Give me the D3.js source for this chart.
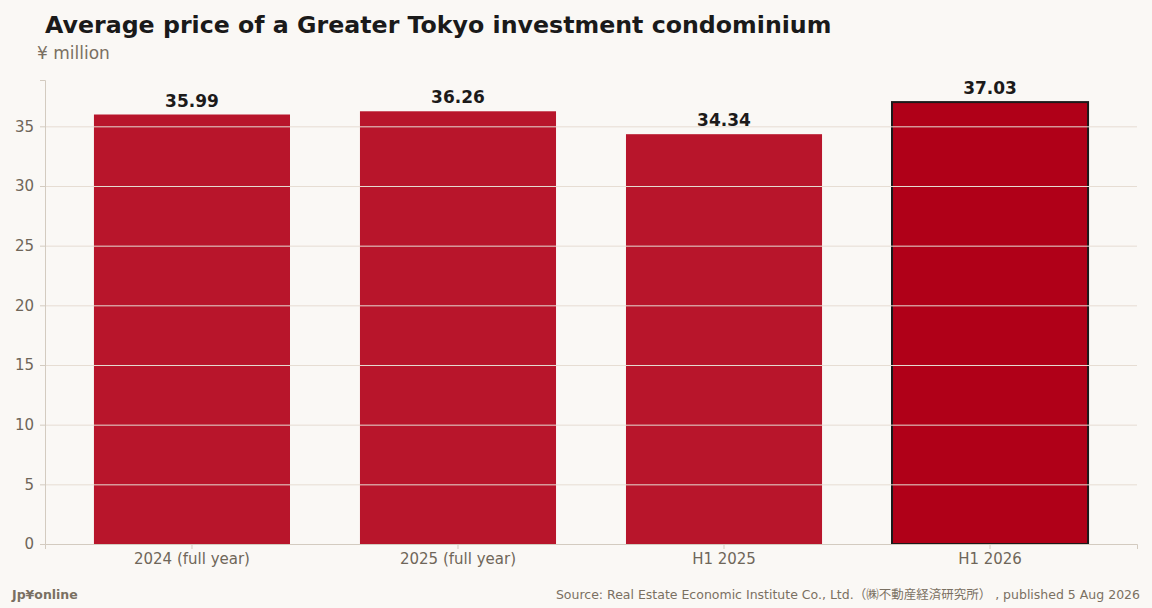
<!DOCTYPE html>
<html lang="en">
<head>
<meta charset="UTF-8">
<title>Average price of a Greater Tokyo investment condominium</title>
<script src="https://cdn.jsdelivr.net/npm/d3@7"></script>
<style>
  body { margin: 0; background: #faf8f5; }
  svg { display: block; font-family: "DejaVu Sans", sans-serif; }
  .grid line { stroke: #e6ddd3; stroke-width: 1; }
  .axis path, .axis line { stroke: #d3cbc0; }
  .axis text { fill: #6f6659; font-size: 15px; font-family: "DejaVu Sans", sans-serif; }
</style>
</head>
<body>
<div id="chart"></div>
<script>
  const categories = ["2024 (full year)", "2025 (full year)", "H1 2025", "H1 2026"]
  const values = [35.99, 36.26, 34.34, 37.03]
  const yTicks = [0, 5, 10, 15, 20, 25, 30, 35]
  const highlight = "H1 2026"

  let width = 1152, height = 608
  let margin = {top: 80, right: 15, bottom: 64, left: 45}

  let svg = d3.select("#chart").append("svg").attr("width", width).attr("height", height)
  svg.append("rect").attr("width", width).attr("height", height).attr("fill", "#faf8f5")

  let x = d3.scaleBand().domain(categories)
    .range([margin.left, width - margin.right])
    .paddingInner(0.263).paddingOuter(0.184)
  let y = d3.scaleLinear().domain([0, d3.max(values) * 1.05])
    .range([height - margin.bottom, margin.top])

  // bars
  svg.append("g").selectAll("rect").data(categories).join("rect")
    .attr("x", d => x(d))
    .attr("y", (d, i) => y(values[i]))
    .attr("width", x.bandwidth())
    .attr("height", (d, i) => y(0) - y(values[i]))
    .attr("fill", d => d == highlight ? "#b00018" : "#b8152b")
    .attr("stroke", d => d == highlight ? "#1c1a1a" : "none")
    .attr("stroke-width", 2)

  // grid lines sit on top of the bars
  svg.append("g").attr("class", "grid").selectAll("line").data(yTicks.slice(1)).join("line")
    .attr("x1", margin.left).attr("x2", width - margin.right)
    .attr("y1", d => y(d) + 0.5).attr("y2", d => y(d) + 0.5)

  // value labels
  svg.append("g").selectAll("text").data(categories).join("text")
    .attr("x", d => x(d) + x.bandwidth() / 2)
    .attr("y", (d, i) => y(values[i]) - 8)
    .attr("text-anchor", "middle")
    .attr("font-size", 17).attr("font-weight", "bold").attr("fill", "#1c1a1a")
    .text((d, i) => values[i].toFixed(2))

  // axes
  let yAxis = d3.axisLeft(y).tickValues(yTicks).tickSize(5).tickPadding(6)
  svg.append("g").attr("class", "axis").attr("transform", "translate(" + margin.left + ",0)").call(yAxis)
  let xAxis = d3.axisBottom(x).tickSize(5).tickPadding(4)
  svg.append("g").attr("class", "axis").attr("transform", "translate(0," + y(0) + ")").call(xAxis)
  svg.selectAll(".axis .domain").attr("stroke", "#d3cbc0")

  // titles
  svg.append("text").attr("x", 45).attr("y", 33)
    .attr("font-size", 23.7).attr("font-weight", "bold").attr("fill", "#1a1a1a")
    .text("Average price of a Greater Tokyo investment condominium")
  svg.append("text").attr("x", 37).attr("y", 59)
    .attr("font-size", 17).attr("fill", "#7a7062")
    .text("¥ million")

  // footer
  svg.append("text").attr("x", 12).attr("y", 599)
    .attr("font-size", 12.5).attr("font-weight", "bold").attr("fill", "#7a7062")
    .text("Jp¥online")
  svg.append("text").attr("x", 1140).attr("y", 599).attr("text-anchor", "end")
    .attr("font-size", 12.5).attr("fill", "#7a7062")
    .style("font-family", "'DejaVu Sans', 'Noto Sans CJK JP', sans-serif")
    .text("Source: Real Estate Economic Institute Co., Ltd.（㈱不動産経済研究所） , published 5 Aug 2026")
</script>
</body>
</html>
